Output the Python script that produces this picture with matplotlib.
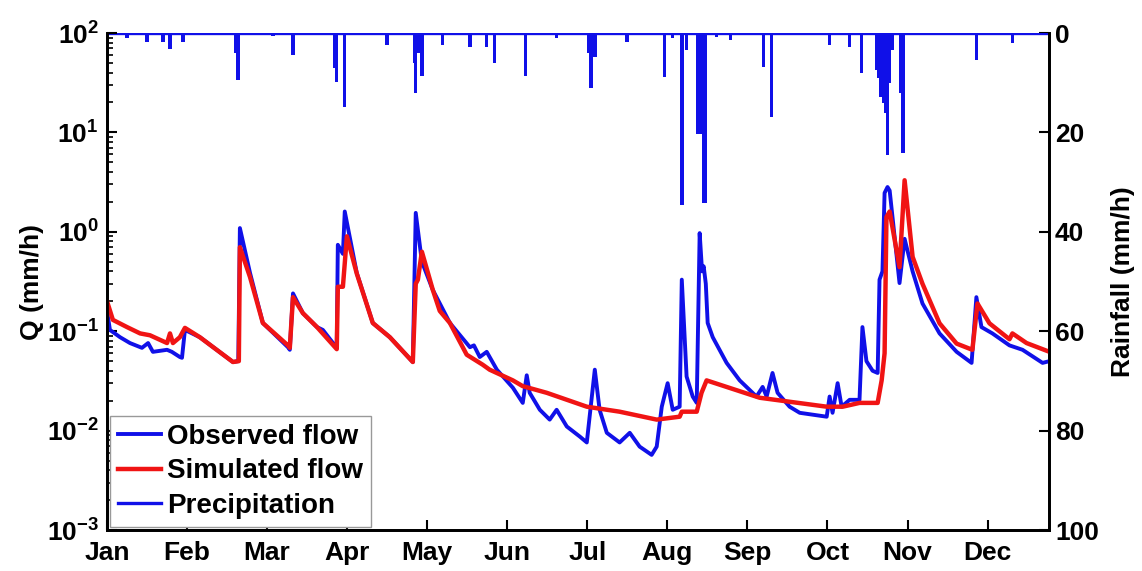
import matplotlib
matplotlib.use("Agg")
import matplotlib.pyplot as plt
from matplotlib.ticker import FixedLocator, LogLocator, NullFormatter, FixedFormatter

plt.rcParams['font.family'] = ['Liberation Sans', 'DejaVu Sans']
plt.rcParams['font.weight'] = 'bold'
plt.rcParams['mathtext.fontset'] = 'custom'
plt.rcParams['mathtext.rm'] = 'Liberation Sans:bold'
plt.rcParams['mathtext.bf'] = 'Liberation Sans:bold'
plt.rcParams['mathtext.it'] = 'Liberation Sans:bold'

# ---- data (x = day of record, ticks every 30 days labelled by month) ----
months = ['Jan', 'Feb', 'Mar', 'Apr', 'May', 'Jun', 'Jul', 'Aug', 'Sep', 'Oct', 'Nov', 'Dec']
month_ticks = [0, 30, 60, 90, 120, 150, 180, 210, 240, 270, 300, 330]

obs_day = [0, 1.1, 4.9, 8.6, 13.1, 15.4, 17.2, 22.5, 24.3, 27.3, 28.1, 29.2, 34.8, 47.2, 49.2, 49.8,
           53.6, 58.4, 67.8, 68.5, 69.7, 73.4, 78.7, 80.9, 86.1, 86.5, 88.4, 89.1, 93.6, 99.6, 106.0,
           114.6, 115.7, 118.0, 122.1, 128.5, 136.0, 137.5, 139.7, 142.3, 146.1, 152.1, 155.8, 157.3,
           158.4, 162.2, 165.9, 168.5, 172.3, 177.2, 179.8, 182.8, 184.6, 187.3, 192.1, 195.9, 199.6,
           204.1, 206.0, 207.9, 210.1, 212.0, 214.6, 215.4, 217.2, 219.5, 221.0, 222.1, 223.0, 223.6,
           224.4, 225.1, 227.0, 232.2, 237.1, 243.4, 245.7, 247.2, 249.4, 251.3, 255.8, 259.6, 269.7,
           270.8, 271.9, 273.8, 275.3, 278.3, 282.0, 283.1, 284.6, 286.9, 288.8, 289.5, 290.6, 291.4,
           292.5, 293.3, 297.0, 298.9, 301.9, 305.6, 312.0, 318.4, 324.0, 325.8, 327.7, 331.8, 338.2,
           343.1, 350.6, 353.2]
obs_q = [0.16, 0.103, 0.087, 0.076, 0.068, 0.076, 0.062, 0.065, 0.062, 0.055, 0.054, 0.103, 0.087,
         0.049, 0.05, 1.09, 0.385, 0.121, 0.069, 0.065, 0.24, 0.152, 0.110, 0.103, 0.068, 0.74, 0.60,
         1.6, 0.385, 0.121, 0.087, 0.049, 1.55, 0.50, 0.26, 0.121, 0.069, 0.072, 0.055, 0.062, 0.041,
         0.027, 0.019, 0.036, 0.024, 0.0162, 0.0129, 0.0162, 0.011, 0.0087, 0.0076, 0.041, 0.0162,
         0.0095, 0.0076, 0.0095, 0.0069, 0.0057, 0.0069, 0.0174, 0.030, 0.0162, 0.0174, 0.33, 0.035,
         0.022, 0.019, 0.97, 0.40, 0.45, 0.30, 0.121, 0.087, 0.048, 0.032, 0.022, 0.0275, 0.022, 0.038,
         0.024, 0.0174, 0.0151, 0.0138, 0.022, 0.0151, 0.030, 0.0174, 0.0204, 0.0204, 0.11, 0.050,
         0.040, 0.038, 0.33, 0.40, 2.46, 2.82, 2.6, 0.305, 0.85, 0.40, 0.19, 0.095, 0.062, 0.048, 0.22,
         0.11, 0.095, 0.072, 0.065, 0.048, 0.050]

sim_day = [0, 2.2, 7.5, 12.4, 16.1, 22.5, 23.6, 24.7, 27.3, 29.2, 34.8, 47.2, 49.4, 49.8, 53.6, 58.4,
           67.8, 68.5, 69.7, 73.4, 78.7, 86.1, 86.5, 88.4, 89.9, 93.6, 99.6, 106.0, 114.6, 115.7, 116.5,
           118.0, 122.1, 124.7, 128.5, 134.8, 140.8, 143.4, 152.1, 155.8, 164.8, 179.8, 192.1, 206.0,
           214.6, 215.4, 221.0, 222.8, 224.7, 232.2, 244.6, 269.7, 275.7, 282.0, 288.8, 290.3, 291.4,
           292.1, 293.3, 297.0, 298.9, 301.9, 305.6, 312.0, 318.4, 324.3, 326.2, 330.7, 338.2, 339.3,
           344.6, 353.2]
sim_q = [0.20, 0.13, 0.110, 0.095, 0.091, 0.076, 0.095, 0.076, 0.087, 0.108, 0.087, 0.049, 0.05, 0.70,
         0.35, 0.121, 0.072, 0.068, 0.22, 0.152, 0.110, 0.066, 0.28, 0.28, 0.9, 0.38, 0.121, 0.087,
         0.049, 0.30, 0.33, 0.63, 0.26, 0.16, 0.121, 0.058, 0.046, 0.041, 0.032, 0.028, 0.024, 0.0174,
         0.0155, 0.0129, 0.0138, 0.0155, 0.0155, 0.024, 0.032, 0.0275, 0.0214, 0.0174, 0.0174, 0.019,
         0.019, 0.032, 0.06, 1.41, 1.6, 0.44, 3.3, 0.56, 0.30, 0.12, 0.075, 0.065, 0.19, 0.12, 0.083,
         0.095, 0.076, 0.062]

rain_day = [7.5, 15.0, 21.0, 23.6, 28.5, 48.3, 49.1, 62.2, 69.7, 79.8, 85.5, 86.1, 89.1, 104.9, 115.2,
            115.7, 116.5, 118.0, 125.8, 136.0, 142.3, 145.3, 156.9, 168.5, 180.5, 181.3, 182.8, 194.8,
            209.0, 212.0, 215.4, 217.2, 221.3, 222.1, 222.8, 223.6, 224.3, 228.5, 233.7, 246.1, 249.1,
            270.8, 278.3, 282.8, 288.5, 289.3, 290.1, 290.9, 291.7, 292.5, 293.2, 294.4, 297.6, 298.3,
            325.8, 339.3, 349.4]
rain_mm = [1.0, 1.8, 1.8, 3.2, 1.8, 4.0, 9.5, 0.6, 4.4, 0.4, 7.0, 9.9, 14.9, 2.4, 6.0, 12.1, 4.0, 8.7,
           2.4, 2.8, 2.8, 6.0, 8.7, 1.0, 4.0, 11.1, 4.8, 1.8, 8.9, 1.0, 34.6, 3.4, 20.3, 20.3, 20.3, 34.2,
           34.2, 0.8, 1.4, 6.8, 16.9, 2.4, 2.8, 8.0, 7.4, 9.0, 12.9, 14.0, 16.0, 24.5, 10.0, 3.4, 12.0,
           24.1, 5.4, 2.0, 0.4]
x_end = 353.2

BLUE = '#1010E8'
RED = '#F01414'

fig = plt.figure(figsize=(11.42, 5.71), dpi=100)
ax = fig.add_axes([0.0937, 0.0718, 0.8253, 0.8704])
ax2 = ax.twinx()

ax.set_zorder(2)
ax.patch.set_visible(False)

# precipitation on right (inverted) axis
ax2.bar(rain_day, rain_mm, width=1.3, color=BLUE, linewidth=0, align='center')
prec_line, = ax2.plot([0, x_end], [0, 0], color=BLUE, lw=2.4, label='Precipitation')
ax2.set_ylim(100, 0)
ax2.set_yticks([0, 20, 40, 60, 80, 100])
ax2.set_ylabel('Rainfall (mm/h)', fontsize=19, fontweight='bold', labelpad=9)

obs_line, = ax.plot(obs_day, obs_q, color=BLUE, lw=2.8, label='Observed flow')
sim_line, = ax.plot(sim_day, sim_q, color=RED, lw=3.2, label='Simulated flow')

ax.set_yscale('log')
ax.set_ylim(1e-3, 1e2)
ax.set_xlim(0, x_end)
ax.set_xticks(month_ticks)
ax.set_xticklabels(months)
dec = [1e-3, 1e-2, 1e-1, 1e0, 1e1, 1e2]
ax.yaxis.set_major_locator(FixedLocator(dec))
ax.yaxis.set_major_formatter(FixedFormatter([r'$10^{-3}$', r'$10^{-2}$', r'$10^{-1}$',
                                             r'$10^{0}$', r'$10^{1}$', r'$10^{2}$']))
ax.yaxis.set_minor_locator(LogLocator(base=10, subs=range(2, 10), numticks=20))
ax.yaxis.set_minor_formatter(NullFormatter())
ax.set_ylabel('Q (mm/h)', fontsize=19, fontweight='bold', labelpad=2)

for s in ['left', 'bottom', 'right']:
    ax.spines[s].set_linewidth(2)
    ax2.spines[s].set_linewidth(2)
ax.spines['top'].set_visible(False)
ax2.spines['top'].set_visible(False)

ax.tick_params(axis='both', which='major', direction='in', length=7, width=1.5, labelsize=19)
ax.tick_params(axis='y', which='minor', direction='in', length=4, width=1.2)
ax.tick_params(axis='x', which='major', pad=8)
ax.tick_params(axis='y', which='major', pad=6)
ax.tick_params(top=False, right=False)
ax2.tick_params(axis='y', direction='in', length=7, width=1.5, labelsize=19, pad=4)
for lab in ax.get_xticklabels() + ax.get_yticklabels() + ax2.get_yticklabels():
    lab.set_fontweight('bold')

leg = ax.legend(handles=[obs_line, sim_line, prec_line], loc='lower left',
                bbox_to_anchor=(0.003, 0.006), borderaxespad=0,
                frameon=True, fancybox=False, handlelength=1.55, handletextpad=0.2,
                labelspacing=0.3, borderpad=0.3, prop={'weight': 'bold', 'size': 20})
leg.get_frame().set_edgecolor('#999999')
leg.get_frame().set_linewidth(1.0)
leg.get_frame().set_alpha(1)

fig.savefig('out.png', dpi=100)
